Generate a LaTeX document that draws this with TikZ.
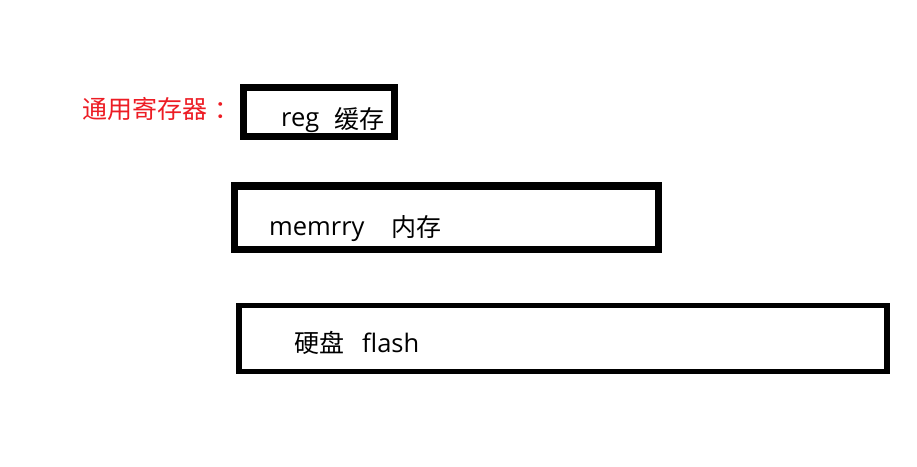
\documentclass[tikz,border=0pt]{standalone}
\usepackage{fontspec}
\setmainfont{Open Sans}
\newfontfamily\cjk{Noto Sans CJK SC}
\definecolor{labelred}{RGB}{237,28,36}
\begin{document}
\begin{tikzpicture}[x=1pt,y=-1pt,
  memory/.style={draw=black,rectangle,inner sep=0pt,outer sep=0pt,fill=none},
  label/.style={anchor=base west,inner sep=0pt,font=\fontsize{25.5}{30}\selectfont},
  cjklabel/.style={anchor=base west,inner sep=0pt,font=\cjk\fontsize{25}{30}\selectfont}]
\useasboundingbox[fill=white] (0,0) rectangle (917,466);
% boxes
\node[memory,line width=7pt,minimum width=151pt,minimum height=49pt] (regbox) at (319,111.5) {};
\node[memory,line width=7.5pt,minimum width=424pt,minimum height=63.5pt] (membox) at (446.5,217.75) {};
\node[memory,line width=5.5pt,minimum width=648pt,minimum height=66pt] (flashbox) at (563,338.5) {};
% texts
\node[cjklabel,text=labelred] (title) at (82,118) {通用寄存器\hspace{7pt}：};
\node[label] (reg) at (281,126) {reg};
\node[cjklabel] (regcn) at (334,128.5) {缓存};
\node[label] (mem) at (269,235) {memrry};
\node[cjklabel] (memcn) at (391,236.5) {内存};
\node[cjklabel] (flashcn) at (294,352.5) {硬盘};
\node[label] (flash) at (362,352) {flash};
\end{tikzpicture}
\end{document}
